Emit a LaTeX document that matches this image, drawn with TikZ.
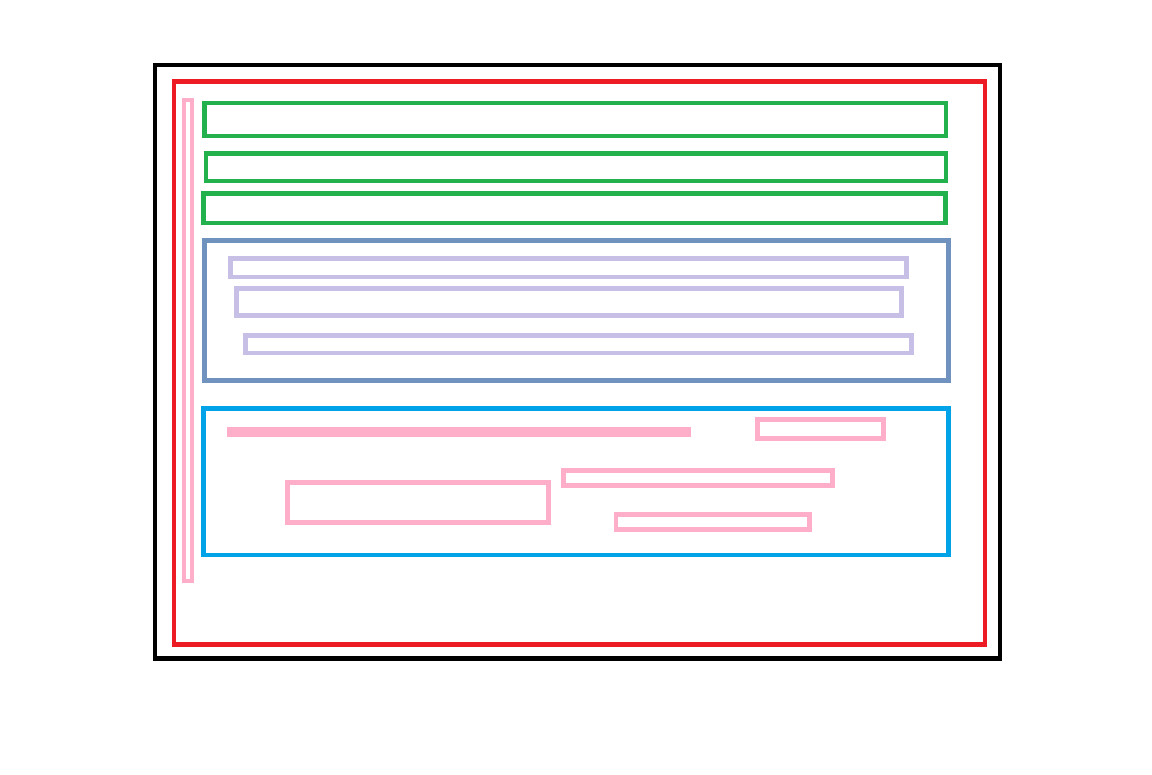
\documentclass[tikz,border=0pt]{standalone}
\definecolor{frameblack}{HTML}{000000}
\definecolor{framered}{HTML}{ED1C24}
\definecolor{bargreen}{HTML}{22B14C}
\definecolor{panelblue}{HTML}{7092BE}
\definecolor{rowlav}{HTML}{C8BFE7}
\definecolor{panelcyan}{HTML}{00A2E8}
\definecolor{itempink}{HTML}{FFAEC9}
\begin{document}
\begin{tikzpicture}[x=1pt,y=-1pt,
  box/.style={draw,line width=4.5pt},
  outerbox/.style={box,frameblack},
  redbox/.style={box,framered},
  greenbox/.style={box,bargreen},
  bluebox/.style={box,panelblue},
  lavbox/.style={box,rowlav},
  cyanbox/.style={box,panelcyan},
  pinkbox/.style={box,itempink},
  pinkbar/.style={fill=itempink}]
  \useasboundingbox (0,0) rectangle (1152,775);
  % outer frames
  \draw[outerbox] (155,65) rectangle (1000,658.5);
  \draw[redbox] (174,81.5) rectangle (985,644.5);
  % side strip
  \draw[pinkbox,line width=4pt] (184,100) rectangle (192,581);
  % header bars
  \draw[greenbox] (204.5,103) rectangle (946,136);
  \draw[greenbox] (206,153.5) rectangle (946,181);
  \draw[greenbox] (203.5,193.5) rectangle (945.5,223);
  % middle panel with rows
  \draw[bluebox] (204.5,240.5) rectangle (948.5,380.5);
  \draw[lavbox] (230.5,258.5) rectangle (906.5,277);
  \draw[lavbox] (236.5,288.5) rectangle (901.5,315.5);
  \draw[lavbox] (245.5,335.5) rectangle (911.5,353);
  % lower panel with items
  \draw[cyanbox] (203.5,408.5) rectangle (948.5,555);
  \fill[pinkbar] (227,427) rectangle (691,437);
  \draw[pinkbox] (757.5,419.5) rectangle (883.5,438.5);
  \draw[pinkbox] (563.5,470.5) rectangle (832.5,485.5);
  \draw[pinkbox] (287.5,482.5) rectangle (548.5,522.5);
  \draw[pinkbox] (616,514.5) rectangle (809.5,529.5);
\end{tikzpicture}
\end{document}
